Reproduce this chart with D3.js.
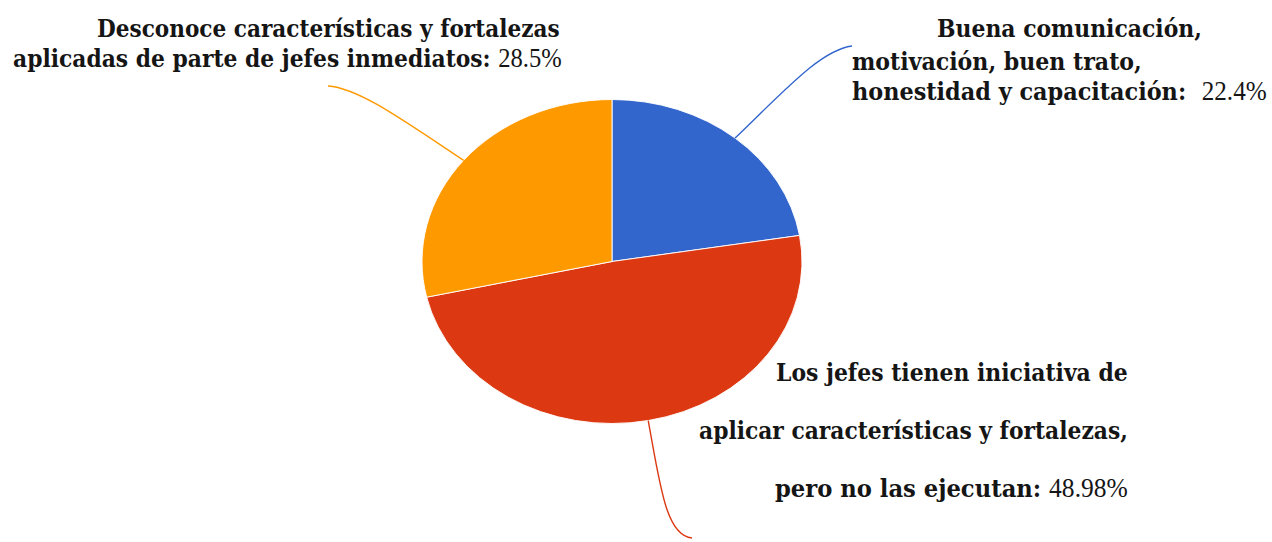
<!DOCTYPE html>
<html>
<head>
<meta charset="utf-8">
<script src="https://cdn.jsdelivr.net/npm/d3@7"></script>
<style>
  html, body { margin: 0; padding: 0; background: #ffffff; }
  svg { display: block; }
  text { white-space: pre; }
</style>
</head>
<body>
<svg id="chart" width="1272" height="542"></svg>
<script>
// Survey answers about how immediate supervisors apply their strengths
const categories = [
  "Buena comunicación, motivación, buen trato, honestidad y capacitación",
  "Los jefes tienen iniciativa de aplicar características y fortalezas, pero no las ejecutan",
  "Desconoce características y fortalezas aplicadas de parte de jefes inmediatos"
];
const values = [22.4, 48.98, 28.5];
const valueLabels = ["22.4%", "48.98%", "28.5%"];
const colors = ["#3366CC", "#DC3912", "#FF9900"];

// Label text split into lines; the last line carries the value
const labelLines = [
  ["Buena comunicación,", "motivación, buen trato,", "honestidad y capacitación:  "],
  ["Los jefes tienen iniciativa de", "aplicar características y fortalezas,", "pero no las ejecutan: "],
  ["Desconoce características y fortalezas", "aplicadas de parte de jefes inmediatos: "]
];

const svg = d3.select("#chart");

// Pie geometry: drawn as a circle, then flattened into an ellipse
const cx = 612, cy = 261.5, rx = 190, ry = 162;
const pie = d3.pie().sort(null).value(d => d)(values);
const arc = d3.arc().innerRadius(0).outerRadius(rx);

const pieG = svg.append("g")
  .attr("transform", `translate(${cx},${cy}) scale(1,${ry / rx})`);

pieG.selectAll("path")
  .data(pie)
  .join("path")
  .attr("d", arc)
  .attr("fill", (d, i) => colors[i])
  .attr("stroke", "#ffffff")
  .attr("stroke-width", 1);

// Point on the ellipse edge at a slice's middle angle
function edgePoint(d) {
  const a = (d.startAngle + d.endAngle) / 2;
  return [cx + rx * Math.sin(a), cy - ry * Math.cos(a)];
}

// Leader lines: each starts at the slice edge and bends toward its label
const leaderShapes = [
  { c1: [790, 85], c2: [822, 50], end: [852, 46] },
  { c1: [660, 485], c2: [666, 536], end: [692, 538] },
  { c1: [400, 118], c2: [358, 88], end: [328, 86] }
];

svg.append("g").selectAll("path")
  .data(pie)
  .join("path")
  .attr("d", (d, i) => {
    const s = edgePoint(d);
    const L = leaderShapes[i];
    const p = d3.path();
    p.moveTo(s[0], s[1]);
    p.bezierCurveTo(L.c1[0], L.c1[1], L.c2[0], L.c2[1], L.end[0], L.end[1]);
    return p.toString();
  })
  .attr("fill", "none")
  .attr("stroke", (d, i) => colors[i])
  .attr("stroke-width", 1.4);

// Label line placement: left and right edges plus baseline
const labelBoxes = [
  [[937, 1202, 37], [852, 1142, 70], [852, 1267, 100]],
  [[776, 1128, 381], [699, 1128, 439], [775, 1128, 497]],
  [[97, 560, 37], [13, 562, 67]]
];

const labelG = svg.append("g");
labelLines.forEach((lines, i) => {
  lines.forEach((line, j) => {
    const [x0, x1, y] = labelBoxes[i][j];
    const t = labelG.append("text")
      .attr("fill", "#151515");
    t.append("tspan")
      .attr("font-family", "'DejaVu Serif', serif")
      .attr("font-weight", "bold")
      .attr("font-size", 24)
      .text(line);
    if (j === lines.length - 1) {
      t.append("tspan")
        .attr("font-family", "Liberation Serif")
        .attr("font-size", 27)
        .text(valueLabels[i]);
    }
    const w = t.node().getComputedTextLength();
    t.attr("transform", `translate(${x0},${y}) scale(${(x1 - x0) / w},1)`);
  });
});
</script>
</body>
</html>
